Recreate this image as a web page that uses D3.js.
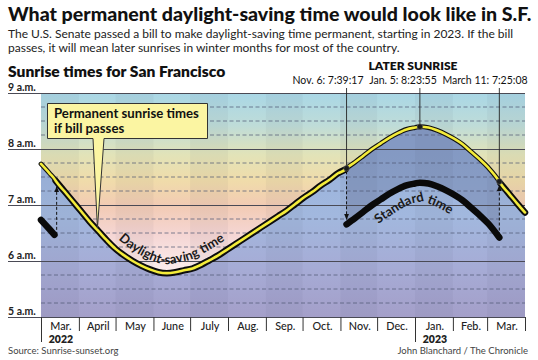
<!DOCTYPE html>
<html><head><meta charset="utf-8">
<script src="https://cdn.jsdelivr.net/npm/d3@7"></script>
<style>
html,body{margin:0;padding:0;background:#fff;}
svg text{font-family:Lato,"Open Sans",sans-serif;}
</style></head>
<body><svg id="c" width="538" height="360"></svg>
<script>
// ---- DATA ----
const dates = ["2022-03-01","2022-03-08","2022-03-12","2022-03-13","2022-03-20","2022-03-27","2022-04-03","2022-04-10","2022-04-17","2022-04-24","2022-05-01","2022-05-08","2022-05-15","2022-05-22","2022-05-29","2022-06-05","2022-06-12","2022-06-19","2022-06-26","2022-07-03","2022-07-10","2022-07-17","2022-07-24","2022-07-31","2022-08-07","2022-08-14","2022-08-21","2022-08-28","2022-09-04","2022-09-11","2022-09-18","2022-09-25","2022-10-02","2022-10-09","2022-10-16","2022-10-23","2022-10-30","2022-11-05","2022-11-06","2022-11-13","2022-11-20","2022-11-27","2022-12-04","2022-12-11","2022-12-18","2022-12-25","2023-01-01","2023-01-05","2023-01-12","2023-01-19","2023-01-26","2023-02-02","2023-02-09","2023-02-16","2023-02-23","2023-03-02","2023-03-11","2023-03-12","2023-03-19","2023-03-26","2023-04-01"];
// Sunrise in San Francisco, Pacific Standard Time
const sunriseStandard = ["6:44","6:34","6:28","6:26","6:15","6:04","5:53","5:42","5:32","5:22","5:13","5:06","5:00","4:55","4:51","4:48","4:47","4:48","4:50","4:52","4:56","5:01","5:06","5:12","5:18","5:24","5:30","5:36","5:42","5:48","5:54","6:01","6:08","6:14","6:21","6:27","6:34","6:38","6:39:17","6:46","6:53","7:00","7:06","7:12","7:17","7:21","7:23","7:23:55","7:23","7:20","7:16","7:11","7:05","6:57","6:49","6:40","6:25:08","6:23","6:12","6:01","5:52"];
const dstPeriods = [["2022-03-13","2022-11-05"],["2023-03-12","2023-04-01"]];
const callouts = [
  {date:"2022-11-06", label:"Nov. 6: 7:39:17", dir:"down"},
  {date:"2023-01-05", label:"Jan. 5: 8:23:55", dir:null},
  {date:"2023-03-11", label:"March 11: 7:25:08", dir:"up"}
];
const dstStartArrow = "2022-03-13";
const months = ["Mar.","April","May","June","July","Aug.","Sep.","Oct.","Nov.","Dec.","Jan.","Feb.","Mar."];
const monthStarts = ["2022-03-01","2022-04-01","2022-05-01","2022-06-01","2022-07-01","2022-08-01","2022-09-01","2022-10-01","2022-11-01","2022-12-01","2023-01-01","2023-02-01","2023-03-01","2023-04-01"];
const yearLabels = [{date:"2022-03-01", text:"2022"},{date:"2023-01-01", text:"2023"}];
const hourTicks = [5,6,7,8,9];
const hourLabels = ["5 a.m.","6 a.m.","7 a.m.","8 a.m.","9 a.m."];

// ---- HELPERS ----
const parse = d3.utcParse("%Y-%m-%d");
function toHours(s){const p=s.split(":").map(Number);return p[0]+p[1]/60+(p[2]||0)/3600;}
const data = dates.map((d,i)=>{
  const dt=parse(d), std=toHours(sunriseStandard[i]);
  const inDst = dstPeriods.some(([a,b])=>dt>=parse(a)&&dt<=parse(b));
  return {date:dt, std:std, perm:std+1, actual:inDst?std+1:std, dst:inDst};
});

const svg = d3.select("#c");
const L=41, R=525, T=93, B=317;
const x = d3.scaleUtc().domain([parse("2022-03-01"), parse("2023-04-01")]).range([L,R]);
const y = d3.scaleLinear().domain([5,9]).range([B,T]);

const defs = svg.append("defs");
const sky = defs.append("linearGradient").attr("id","sky").attr("gradientUnits","userSpaceOnUse")
  .attr("x1",0).attr("x2",0).attr("y1",y(9)).attr("y2",y(5.75));
[[0,"#a9d7e6"],[0.18,"#bfdcd8"],[0.34,"#e2e3b8"],[0.48,"#f0dcaa"],[0.62,"#f2cbb4"],[0.78,"#f5d6d4"],[1,"#fcf0f0"]]
  .forEach(([o,c])=>sky.append("stop").attr("offset",o).attr("stop-color",c));
const night = defs.append("linearGradient").attr("id","night").attr("gradientUnits","userSpaceOnUse")
  .attr("x1",0).attr("x2",0).attr("y1",y(8)).attr("y2",y(5));
[[0,"#98b2dc"],[0.4,"#a2b8de"],[0.7,"#a6acd6"],[1,"#a49fc9"]]
  .forEach(([o,c])=>night.append("stop").attr("offset",o).attr("stop-color",c));
defs.append("clipPath").attr("id","plot").append("rect").attr("x",L).attr("y",T).attr("width",R-L).attr("height",B-T);
defs.append("marker").attr("id","arr").attr("viewBox","0 0 10 10").attr("refX",9).attr("refY",5)
  .attr("markerWidth",6).attr("markerHeight",6).attr("orient","auto-start-reverse")
  .append("path").attr("d","M0,1 L10,5 L0,9 Z").attr("fill","#111");

const g = svg.append("g").attr("clip-path","url(#plot)");
g.append("rect").attr("x",L).attr("y",T).attr("width",R-L).attr("height",B-T).attr("fill","url(#sky)");

const curve = d3.curveMonotoneX;
g.append("path").datum(data).attr("fill","url(#night)")
  .attr("d",d3.area().x(d=>x(d.date)).y0(B).y1(d=>y(d.perm)).curve(curve));

// darker band between permanent DST and standard time in winter
const winter = data.filter(d=>d.date>=parse("2022-11-06")&&d.date<=parse("2023-03-11"));
g.append("path").datum(winter).attr("fill","#5a6890").attr("fill-opacity",0.32)
  .attr("d",d3.area().x(d=>x(d.date)).y0(d=>y(d.std)).y1(d=>y(d.perm)).curve(curve));

// alternating month bands
for(let i=0;i<months.length;i+=2){
  g.append("rect").attr("x",x(parse(monthStarts[i]))).attr("y",T)
   .attr("width",x(parse(monthStarts[i+1]))-x(parse(monthStarts[i]))).attr("height",B-T)
   .attr("fill","#2a2a50").attr("fill-opacity",0.045);
}

// grid: quarter-hour dashes
const quarters = d3.range(5.25,9,0.25).filter(v=>Math.abs(v-Math.round(v))>0.01);
svg.append("g").selectAll("line").data(quarters).join("line")
  .attr("x1",L).attr("x2",R).attr("y1",d=>y(d)).attr("y2",d=>y(d))
  .attr("stroke","#4e5872").attr("stroke-width",0.85).attr("stroke-dasharray","4,2.5").attr("stroke-opacity",0.85);
svg.append("g").selectAll("line").data(hourTicks).join("line")
  .attr("x1",8).attr("x2",R).attr("y1",d=>y(d)+0.5).attr("y2",d=>y(d)+0.5)
  .attr("stroke","#4a4a55").attr("stroke-width",1.1);
svg.append("g").selectAll("text").data(hourTicks).join("text")
  .attr("x",8).attr("y",d=>y(d)-2).attr("font-size",10.5).attr("font-weight",700).attr("fill","#222")
  .text((d,i)=>hourLabels[i]);

// callout leader lines and DST arrows
const byDate = ds=>data.find(d=>+d.date===+parse(ds));
callouts.forEach(c=>{
  const d=byDate(c.date), cx=x(d.date);
  svg.append("line").attr("x1",cx).attr("x2",cx).attr("y1",88).attr("y2",y(d.perm))
    .attr("stroke","#222").attr("stroke-width",0.9);
  if(c.dir){
    const line = svg.append("line").attr("x1",cx).attr("x2",cx)
      .attr("stroke","#111").attr("stroke-width",1).attr("stroke-dasharray","3,2");
    if(c.dir==="down") line.attr("y1",y(d.perm)+3).attr("y2",y(d.std)-5).attr("marker-end","url(#arr)");
    else line.attr("y1",y(d.std)-2).attr("y2",y(d.perm)+4).attr("marker-end","url(#arr)");
  }
});
{
  const prev = data[dates.indexOf(dstStartArrow)-1], cur = byDate(dstStartArrow);
  const ax = x(cur.date)+1;
  svg.append("line").attr("x1",ax).attr("x2",ax).attr("y1",y(prev.std)).attr("y2",y(cur.perm)+6)
    .attr("stroke","#111").attr("stroke-width",1).attr("stroke-dasharray","3,2").attr("marker-end","url(#arr)");
}

// actual sunrise (black thick) in segments
const lineGen = k=>d3.line().x(d=>x(d.date)).y(d=>y(d[k])).curve(curve);
const segs=[]; let cur=[];
data.forEach((d,i)=>{ if(i>0 && d.dst!==data[i-1].dst){segs.push(cur);cur=[];} cur.push(d);});
segs.push(cur);
const lg = svg.append("g");
segs.forEach(s=>{
  lg.append("path").datum(s).attr("d",lineGen("actual")).attr("fill","none")
    .attr("stroke","#0a0a0a").attr("stroke-width",6.5).attr("stroke-linecap","round").attr("stroke-linejoin","round");
});
// permanent DST line (yellow with black edge)
const permD = lineGen("perm")(data);
lg.append("path").attr("d",permD).attr("fill","none").attr("stroke","#111").attr("stroke-width",4.8).attr("stroke-linecap","round");
lg.append("path").attr("d",permD).attr("fill","none").attr("stroke","#f4ec3a").attr("stroke-width",2.6).attr("stroke-linecap","round");

callouts.forEach(c=>{
  const d=byDate(c.date);
  svg.append("circle").attr("cx",x(d.date)).attr("cy",y(d.perm)).attr("r",2.8).attr("fill","#1a1a1a").attr("stroke","#666").attr("stroke-width",0.6);
});

// labels along curves (offset path perpendicular to the curve)
function offsetPath(pathD, off, x0, x1){
  const tmp = svg.append("path").attr("d",pathD).attr("visibility","hidden");
  const node=tmp.node(), len=node.getTotalLength(), pts=[];
  for(let l=0;l<=len;l+=2){
    const p=node.getPointAtLength(l), q=node.getPointAtLength(Math.min(len,l+1)), r=node.getPointAtLength(Math.max(0,l-1));
    if(p.x<x0||p.x>x1) continue;
    const dx=q.x-r.x, dy=q.y-r.y, n=Math.hypot(dx,dy)||1;
    pts.push([p.x + dy/n*off, p.y - dx/n*off]);
  }
  tmp.remove();
  return d3.line().curve(d3.curveBasis)(pts);
}
defs.append("path").attr("id","dstTextPath").attr("d",offsetPath(permD, 9, 100, 265));
svg.append("text").attr("font-size",13).attr("font-weight",700).attr("fill","#1a1a1a")
  .append("textPath").attr("href","#dstTextPath").attr("startOffset","9%").text("Daylight-saving time");
const stdD = lineGen("std")(winter);
defs.append("path").attr("id","stdTextPath").attr("d",offsetPath(stdD, -19, 340, 505));
svg.append("text").attr("font-size",13).attr("font-weight",700).attr("fill","#1a1a1a")
  .append("textPath").attr("href","#stdTextPath").attr("startOffset","43%").attr("text-anchor","middle").text("Standard time");

// callout box
{
  const tip = byDate("2022-04-17"), tx = x(tip.date)-1, ty = y(tip.perm)-3;
  svg.append("path").attr("d",`M47.5,103.5 H207.5 V138.5 H104 L${tx},${ty} L93,138.5 H47.5 Z`)
    .attr("fill","#fbf5a2").attr("stroke","#333").attr("stroke-width",1);
  svg.append("text").attr("x",54).attr("y",117.5).attr("font-size",13.2).attr("font-weight",700).attr("fill","#111").text("Permanent sunrise times");
  svg.append("text").attr("x",54).attr("y",132.5).attr("font-size",13.2).attr("font-weight",700).attr("fill","#111").text("if bill passes");
}

// top annotations
svg.append("text").attr("x",413).attr("y",70).attr("text-anchor","middle").attr("font-size",12).attr("font-weight",800).attr("fill","#111").text("LATER SUNRISE");
const labelX = [328,403,485];
callouts.forEach((c,i)=>{
  svg.append("text").attr("x",labelX[i]).attr("y",83.5).attr("text-anchor","middle").attr("font-size",10.5).attr("fill","#111").text(c.label);
});

// x axis
svg.append("g").selectAll("line").data(monthStarts).join("line")
  .attr("x1",d=>x(parse(d))+0.5).attr("x2",d=>x(parse(d))+0.5).attr("y1",B)
  .attr("y2",d=>yearLabels.some(yl=>yl.date===d)?342:331).attr("stroke","#333").attr("stroke-width",1);
svg.append("g").selectAll("text").data(months).join("text")
  .attr("x",(d,i)=>(x(parse(monthStarts[i]))+x(parse(monthStarts[i+1])))/2+1).attr("y",329.5)
  .attr("text-anchor","middle").attr("font-size",10.8).attr("font-weight",500).attr("fill","#222").text(d=>d);
svg.append("g").selectAll("text").data(yearLabels).join("text")
  .attr("x",d=>{const i=monthStarts.indexOf(d.date);return (x(parse(monthStarts[i]))+x(parse(monthStarts[i+1])))/2+1;})
  .attr("y",343).attr("text-anchor","middle").attr("font-size",10.5).attr("font-weight",800).attr("fill","#222").text(d=>d.text);

// titles
svg.append("text").attr("x",8).attr("y",21).attr("font-size",19.6).attr("font-weight",900).attr("fill","#111")
  .text("What permanent daylight-saving time would look like in S.F.");
svg.append("text").attr("x",8).attr("y",38).attr("font-size",12).attr("fill","#222")
  .text("The U.S. Senate passed a bill to make daylight-saving time permanent, starting in 2023. If the bill");
svg.append("text").attr("x",8).attr("y",52).attr("font-size",12).attr("fill","#222")
  .text("passes, it will mean later sunrises in winter months for most of the country.");
svg.append("text").attr("x",8).attr("y",77).attr("font-size",15.6).attr("font-weight",800).attr("fill","#111")
  .text("Sunrise times for San Francisco");
svg.append("text").attr("x",8).attr("y",354).attr("font-size",9.5).attr("fill","#444").text("Source: Sunrise-sunset.org");
svg.append("text").attr("x",528).attr("y",354).attr("text-anchor","end").attr("font-size",9.5).attr("fill","#444").text("John Blanchard / The Chronicle");
</script></body></html>
